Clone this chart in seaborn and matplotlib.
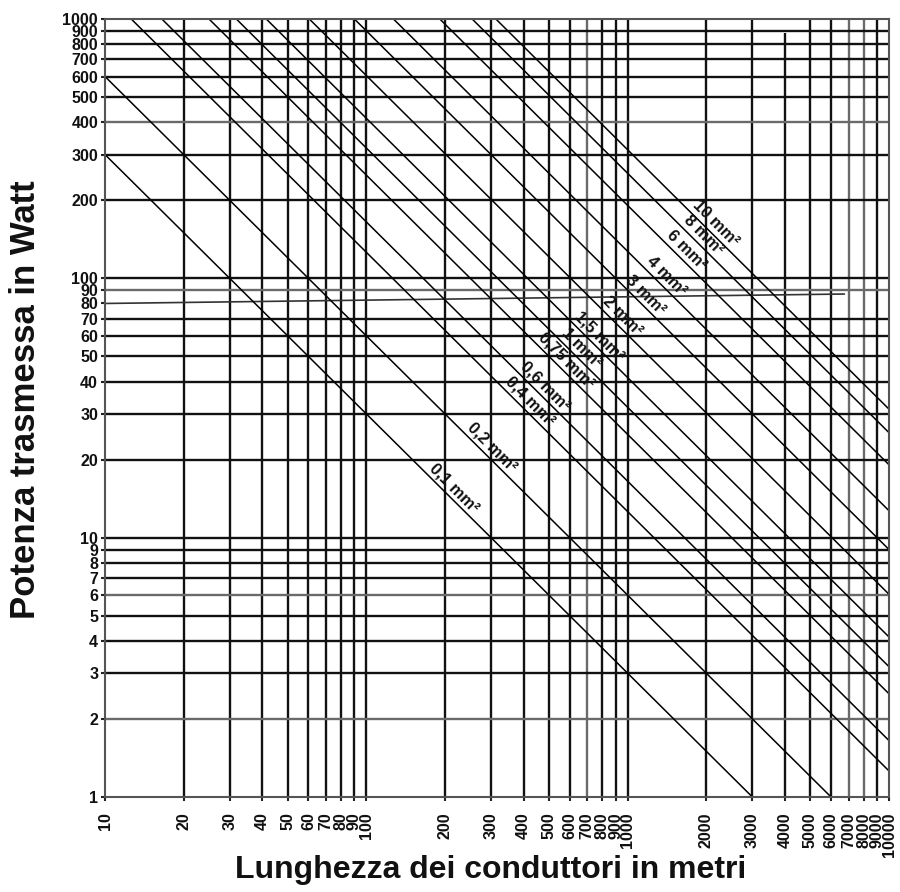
import numpy as np
import pandas as pd
import matplotlib
matplotlib.use("Agg")
import matplotlib.pyplot as plt
from matplotlib.ticker import NullLocator
import seaborn as sns

# wire cross-sections and the P*L constant read for each line
sections = ["0,1", "0,2", "0,4", "0,6", "0,75", "1", "1,5", "2", "3", "4", "6", "8", "10"]
pl_const = [3000, 6000, 12600, 16500, 25000, 31800, 41400, 60500, 90000, 127000, 191000, 254000, 313000]

# lengths (m) where each label sits on its line
label_len = [205, 286, 399, 455, 548, 626, 734, 900, 1105, 1323, 1582, 1836, 2040]

# tick values
x_ticks = [10, 20, 30, 40, 50, 60, 70, 80, 90, 100, 200, 300, 400, 500, 600, 700, 800, 900,
           1000, 2000, 3000, 4000, 5000, 6000, 7000, 8000, 9000, 10000]
y_ticks = [1, 2, 3, 4, 5, 6, 7, 8, 9, 10, 20, 30, 40, 50, 60, 70, 80, 90,
           100, 200, 300, 400, 500, 600, 700, 800, 900, 1000]

# grid lines drawn lighter, and the 80 W line that was drawn askew
x_grey = [700, 7000, 8000]
y_grey = [2, 6, 90, 400]
skew_x = [10, 6750]
skew_y = [80, 87]

sns.set_theme(style="white")
plt.rcParams["font.family"] = ["Liberation Sans", "DejaVu Sans"]
plt.rcParams["font.weight"] = "bold"

fig = plt.figure(figsize=(9, 8.92), dpi=100)
ax = fig.add_axes([0.1167, 0.1065, 0.8711, 0.8722])

# build long table of the lines P = k / L
lengths = np.array([10, 100, 1000, 10000])
rows = []
for s, k in zip(sections, pl_const):
    for L in lengths:
        rows.append({"section": s, "L": L, "P": k / L})
df = pd.DataFrame(rows)

ax.set_xscale("log")
ax.set_yscale("log")

# grid
for v in x_ticks[1:-1]:
    col = "#6a6a6a" if v in x_grey else "#111111"
    top = 880 if v == 4000 else 1000
    ax.vlines(v, 1, top, color=col, lw=1.7, zorder=1)
for v in y_ticks[1:-1]:
    if v == 80:
        continue
    col = "#6a6a6a" if v in y_grey else "#111111"
    ax.axhline(v, color=col, lw=1.7, zorder=1)
ax.plot(skew_x, skew_y, color="#333333", lw=1.2, zorder=1)

sns.lineplot(data=df, x="L", y="P", units="section", estimator=None,
             color="black", lw=1.1, sort=True, ax=ax, zorder=2)

for s, k, L in zip(sections, pl_const, label_len):
    ax.annotate(f"{s} mm²", xy=(L, k / L), xytext=(4.8, 4.8), textcoords="offset points",
                rotation=-45, rotation_mode="anchor", ha="center", va="center",
                fontsize=12, fontweight="bold", color="#111111", zorder=3)

ax.set_xlim(10, 10000)
ax.set_ylim(1, 1000)
ax.set_xticks(x_ticks, [str(v) for v in x_ticks], rotation=90)
ax.set_yticks(y_ticks, [str(v) for v in y_ticks])
ax.xaxis.set_minor_locator(NullLocator())
ax.yaxis.set_minor_locator(NullLocator())
ax.tick_params(axis="both", which="major", length=3, width=1.5, color="#222222",
               labelsize=11.5, direction="out", left=True, bottom=True)
ax.tick_params(axis="y", pad=2)
ax.tick_params(axis="x", pad=8)
for lab in ax.get_xticklabels() + ax.get_yticklabels():
    lab.set_fontweight("bold")
    lab.set_color("#111111")

for sp in ax.spines.values():
    sp.set_color("#555555")
    sp.set_linewidth(1.5)

ax.set_xlabel("")
ax.set_ylabel("")
fig.text(26 / 900, 1 - 400 / 892, "Potenza trasmessa in Watt", rotation=90,
         ha="center", va="center", fontsize=25, fontweight="bold", color="#111111")
fig.text(491 / 900, 1 - 870 / 892, "Lunghezza dei conduttori in metri",
         ha="center", va="center", fontsize=23, fontweight="bold", color="#111111")

fig.savefig("out.png", dpi=100)
